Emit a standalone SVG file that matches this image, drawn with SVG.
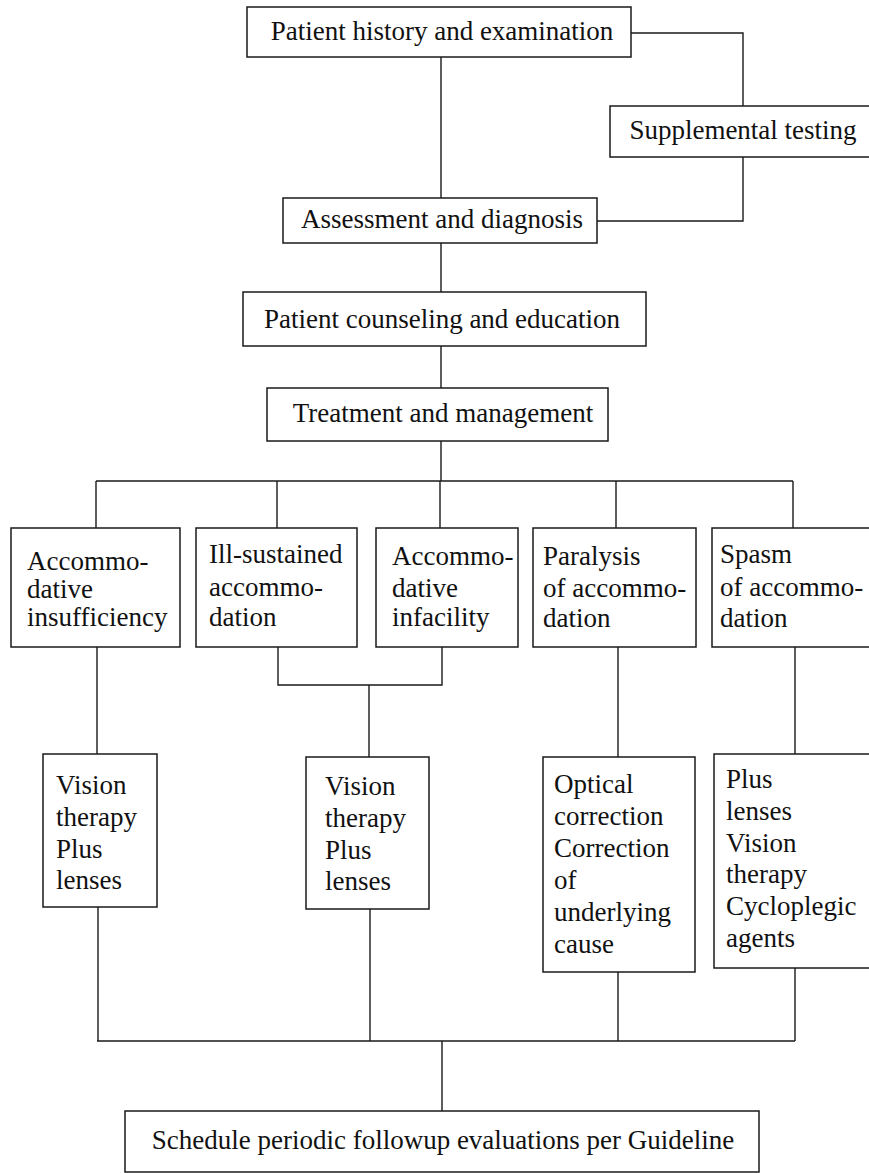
<svg xmlns="http://www.w3.org/2000/svg" width="869" height="1173" viewBox="0 0 869 1173">
<style>
.box{fill:#fff;stroke:#1a1a1a;stroke-width:1.5}
.ln{fill:none;stroke:#1a1a1a;stroke-width:1.4}
text{font-family:"Liberation Serif","Times New Roman",serif;font-size:27px;fill:#111}
.c{text-anchor:middle}
</style>
<rect width="869" height="1173" fill="#fff"/>
<g id="connectors">
<path class="ln" d="M441 57V198M631 33H743V106M743 157V221H597M441 243V292M441 346V388M441 441V481M96 481H793M96 481V528M277 481V528M440 481V528M616 481V528M793 481V528"/>
<path class="ln" d="M97 647V754M278 647V685H442V647M369 685V757M618 647V757M795 647V754"/>
<path class="ln" d="M98 907V1041M370 909V1041M618 972V1041M795 968V1041M97 1041H795M442 1041V1111"/>
</g>
<g id="n1"><rect class="box" x="247" y="7" width="384" height="50"/><text class="c" x="442" y="40">Patient history and examination</text></g>
<g id="n2"><rect class="box" x="610" y="106" width="262" height="51"/><text class="c" x="743" y="139">Supplemental testing</text></g>
<g id="n3"><rect class="box" x="283" y="198" width="314" height="45"/><text class="c" x="442" y="228">Assessment and diagnosis</text></g>
<g id="n4"><rect class="box" x="243" y="292" width="403" height="54"/><text class="c" x="442" y="328">Patient counseling and education</text></g>
<g id="n5"><rect class="box" x="267" y="388" width="341" height="53"/><text class="c" x="443" y="422">Treatment and management</text></g>
<g id="n6"><rect class="box" x="11" y="528" width="169" height="119"/><text x="27"><tspan x="27" y="570">Accommo-</tspan><tspan x="27" y="598">dative</tspan><tspan x="27" y="626">insufficiency</tspan></text></g>
<g id="n7"><rect class="box" x="196" y="528" width="161" height="119"/><text><tspan x="209" y="563">Ill-sustained</tspan><tspan x="209" y="596">accommo-</tspan><tspan x="209" y="626">dation</tspan></text></g>
<g id="n8"><rect class="box" x="376" y="528" width="142" height="119"/><text><tspan x="392" y="565">Accommo-</tspan><tspan x="392" y="597">dative</tspan><tspan x="392" y="626">infacility</tspan></text></g>
<g id="n9"><rect class="box" x="533" y="528" width="163" height="119"/><text><tspan x="543" y="565">Paralysis</tspan><tspan x="543" y="597">of accommo-</tspan><tspan x="543" y="627">dation</tspan></text></g>
<g id="n10"><rect class="box" x="712" y="528" width="160" height="119"/><text><tspan x="720" y="563">Spasm</tspan><tspan x="720" y="596">of accommo-</tspan><tspan x="720" y="627">dation</tspan></text></g>
<g id="n11"><rect class="box" x="43" y="754" width="114" height="153"/><text><tspan x="56" y="794">Vision</tspan><tspan x="56" y="826">therapy</tspan><tspan x="56" y="858">Plus</tspan><tspan x="56" y="889">lenses</tspan></text></g>
<g id="n12"><rect class="box" x="306" y="757" width="123" height="152"/><text><tspan x="325" y="795">Vision</tspan><tspan x="325" y="827">therapy</tspan><tspan x="325" y="859">Plus</tspan><tspan x="325" y="890">lenses</tspan></text></g>
<g id="n13"><rect class="box" x="543" y="757" width="152" height="215"/><text><tspan x="554" y="793">Optical</tspan><tspan x="554" y="825">correction</tspan><tspan x="554" y="857">Correction</tspan><tspan x="554" y="889">of</tspan><tspan x="554" y="921">underlying</tspan><tspan x="554" y="953">cause</tspan></text></g>
<g id="n14"><rect class="box" x="714" y="754" width="158" height="214"/><text><tspan x="726" y="788">Plus</tspan><tspan x="726" y="820">lenses</tspan><tspan x="726" y="852">Vision</tspan><tspan x="726" y="883">therapy</tspan><tspan x="726" y="915">Cycloplegic</tspan><tspan x="726" y="947">agents</tspan></text></g>
<g id="n15"><rect class="box" x="125" y="1111" width="634" height="61"/><text class="c" x="443" y="1149">Schedule periodic followup evaluations per Guideline</text></g>
</svg>
